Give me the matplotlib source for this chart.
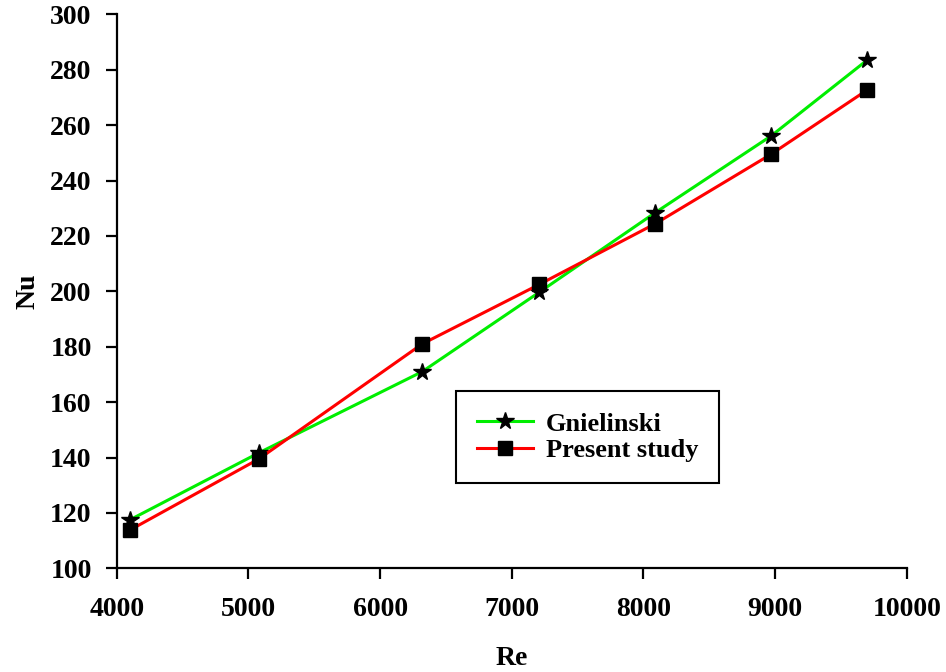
import numpy as np
import matplotlib.pyplot as plt

plt.rcParams['font.family'] = ['Liberation Serif', 'DejaVu Serif']
plt.rcParams['font.weight'] = 'bold'

re_vals = [4100, 5080, 6320, 7210, 8090, 8970, 9700]
nu_gnielinski = [117.5, 141.7, 171.0, 199.7, 228.4, 256.1, 283.5]
nu_present = [113.8, 139.5, 181.0, 202.5, 224.4, 249.5, 272.7]

fig = plt.figure(figsize=(9.46, 6.72), dpi=100)
ax = fig.add_axes([0.1234, 0.1543, 0.8351, 0.8244])

ax.plot(re_vals, nu_gnielinski, color='#00ee00', lw=2.2, marker='*',
        ms=13, mfc='black', mec='black', label='Gnielinski')
ax.plot(re_vals, nu_present, color='#ff0000', lw=2.2, marker='s',
        ms=10, mfc='black', mec='black', label='Present study')

ax.set_xlim(4000, 10000)
ax.set_ylim(100, 300)
ax.set_xticks(np.arange(4000, 10001, 1000))
ax.set_yticks(np.arange(100, 301, 20))

for s in ['top', 'right']:
    ax.spines[s].set_visible(False)
for s in ['left', 'bottom']:
    ax.spines[s].set_linewidth(1.6)
ax.tick_params(direction='out', length=8, width=1.6, labelsize=20)
ax.tick_params(axis='x', pad=13)
ax.tick_params(axis='y', pad=10)
for lab in ax.get_xticklabels() + ax.get_yticklabels():
    lab.set_fontweight('bold')

ax.set_xlabel('Re', fontsize=20, fontweight='bold', labelpad=17)
ax.set_ylabel('Nu', fontsize=20, fontweight='bold', labelpad=7)

leg = ax.legend(loc='upper left', bbox_to_anchor=(456 / 946, 1 - 391 / 672),
                bbox_transform=fig.transFigure, borderaxespad=0,
                fancybox=False, edgecolor='black', framealpha=1,
                fontsize=19, handlelength=2.1, borderpad=0.8,
                labelspacing=0.12, handletextpad=0.5)
leg.get_frame().set_linewidth(1.5)
for t in leg.get_texts():
    t.set_fontweight('bold')

fig.savefig('out.png', dpi=100)
